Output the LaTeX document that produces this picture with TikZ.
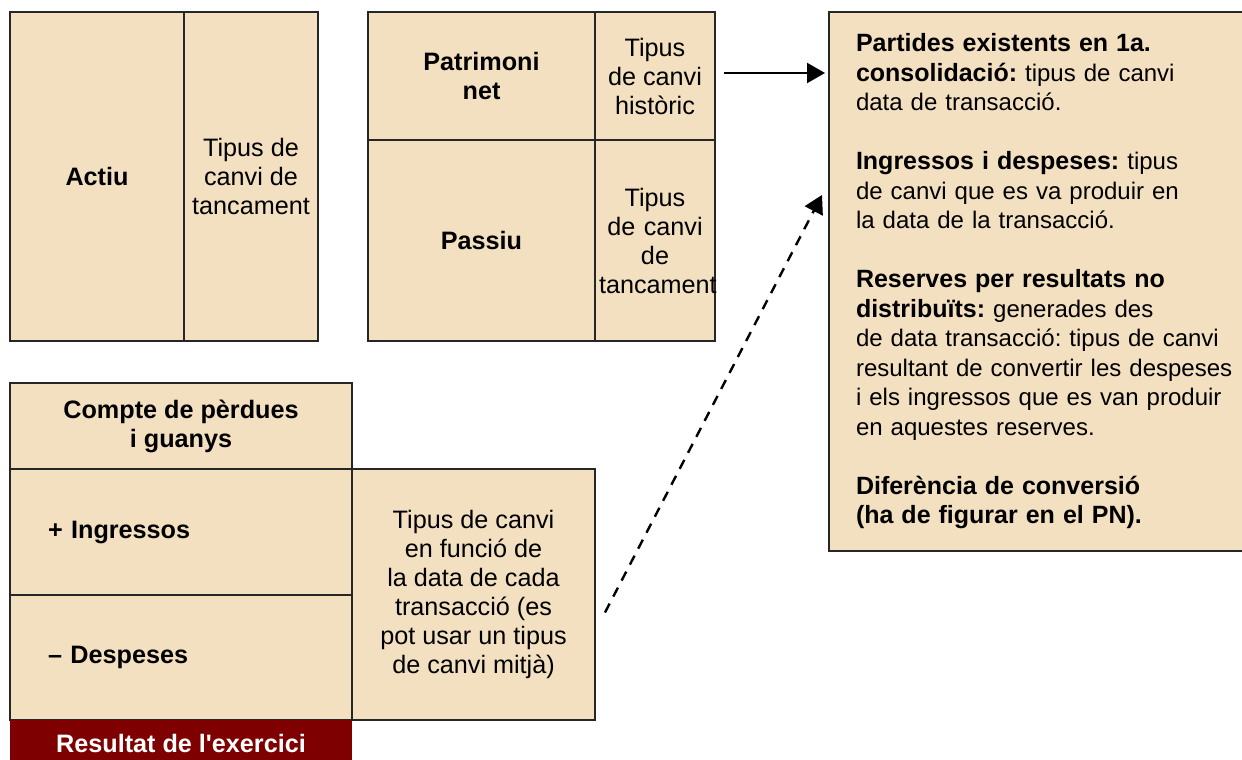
\documentclass[tikz,border=0pt]{standalone}
\usepackage{fontspec}
\setmainfont{Liberation Sans}
\usepackage{tikz}
\usetikzlibrary{arrows.meta,positioning}
\definecolor{beige}{RGB}{243,224,193}
\definecolor{granat}{RGB}{127,0,0}
\frenchspacing
\newcommand{\hd}[1]{{\fontsize{12.5}{14.75}\selectfont\bfseries #1}}
\tikzset{
    %Define standard arrow tip
    >={Triangle[length=9pt,width=10pt]},
    %Define style for cells
    cell/.style={
           rectangle,
           draw=black!85, line width=1.2pt,
           fill=beige,
           outer sep=0pt,
           inner sep=2pt,
           font=\fontsize{12.6}{14.5}\selectfont,
           align=center},
    leftcell/.style={
           cell,
           align=left,
           text width=133pt},
    infobox/.style={
           cell,
           align=left,
           font=\fontsize{12}{14.75}\selectfont,
           text width=190pt},
    result/.style={
           rectangle,
           fill=granat,
           text=white,
           outer sep=0pt,
           font=\fontsize{12.6}{14.5}\selectfont\bfseries},
    % Define arrow style
    pil/.style={
           ->,
           line width=1.2pt,
           shorten <=4.5pt,
           shorten >=2pt}
}

\begin{document}
\begin{tikzpicture}[node distance=0pt]
\useasboundingbox (0,0) rectangle (621pt,-380pt);
% balance
\node[cell, minimum width=87pt, minimum height=164.5pt, anchor=north west](actiu) at (5pt,-6pt){\textbf{Actiu}};
\node[cell, minimum width=67pt, minimum height=164.5pt, right=of actiu](actiuTC){Tipus de\\canvi de\\tancament};
\node[cell, minimum width=113.5pt, minimum height=64pt, anchor=north west](pn) at (184pt,-6pt){\textbf{Patrimoni}\\\textbf{net}};
\node[cell, minimum width=60pt, minimum height=64pt, right=of pn](pnTC){Tipus\\de canvi\\històric};
\node[cell, minimum width=113.5pt, minimum height=100.5pt, below=of pn](passiu){\textbf{Passiu}};
\node[cell, text width=56pt, minimum height=100.5pt, right=of passiu](passiuTC){Tipus\\de canvi\\de\\tancament};
% compte de perdues i guanys
\node[cell, minimum width=171pt, minimum height=43pt, anchor=north west](pyg) at (5pt,-191.5pt){\textbf{Compte de pèrdues}\\\textbf{i guanys}};
\node[leftcell, minimum width=171pt, minimum height=63pt, below=of pyg](ingr){\textbf{+ Ingressos}};
\node[leftcell, minimum width=171pt, minimum height=62.5pt, below=of ingr](desp){\textbf{– Despeses}};
\node[cell, minimum width=121.5pt, minimum height=125.5pt, anchor=north west](pygTC) at (ingr.north east){Tipus de canvi\\en funció de\\la data de cada\\transacció (es\\pot usar un tipus\\de canvi mitjà)};
\node[result, minimum width=171pt, minimum height=23pt, below=of desp](res){Resultat de l\textquotesingle exercici};
% criteris
\node[infobox, minimum width=217pt, minimum height=269.5pt, anchor=north west](info) at (414.5pt,-6pt){%
\hd{Partides existents en 1a.}\\
\hd{consolidació:} tipus de canvi\\
data de transacció.\\[14.75pt]
\hd{Ingressos i despeses:} tipus\\
de canvi que es va produir en\\
la data de la transacció.\\[14.75pt]
\hd{Reserves per resultats no}\\
\hd{distribuïts:} generades des\\
de data transacció: tipus de canvi\\
resultant de convertir les despeses\\
i els ingressos que es van produir\\
en aquestes reserves.\\[14.75pt]
\hd{Diferència de conversió}\\
\hd{(ha de figurar en el PN).}};
\coordinate (dashS) at ([shift={(5pt,-9pt)}]pygTC.east);
\coordinate (dashE) at ([shift={(-3.5pt,43.25pt)}]info.west);
\draw[pil] ([yshift=1.5pt]pnTC.east) -- ([yshift=1.5pt]pnTC.east -| info.west);
\draw[pil, shorten <=0pt, shorten >=0pt, dash pattern=on 5pt off 4pt] (dashS) -- (dashE);
\end{tikzpicture}
\end{document}
